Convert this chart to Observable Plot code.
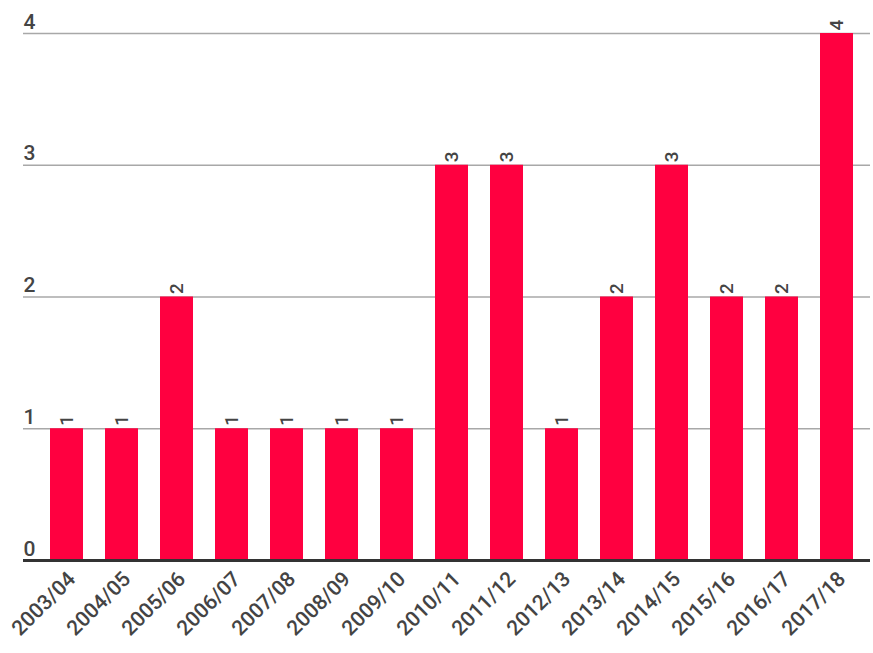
<!DOCTYPE html>
<html><head><meta charset="utf-8">
<script src="https://cdn.jsdelivr.net/npm/d3@7"></script>
<script src="https://cdn.jsdelivr.net/npm/@observablehq/plot@0.6"></script>
<style>body{margin:0;background:#fff;font-family:Roboto,sans-serif}</style>
</head><body><div id="chart"></div>
<script>
const seasons = ["2003/04","2004/05","2005/06","2006/07","2007/08","2008/09","2009/10","2010/11","2011/12","2012/13","2013/14","2014/15","2015/16","2016/17","2017/18"];
const counts = [1,1,2,1,1,1,1,3,3,1,2,3,2,2,4];
const yTicks = [0,1,2,3,4];
const data = seasons.map((s,i)=>({season:s, count:counts[i]}));

const chart = Plot.plot({
  width: 873, height: 653,
  marginLeft: 23, marginRight: 3, marginTop: 0, marginBottom: 0,
  style: {fontFamily: "Roboto, sans-serif", background: "#fff"},
  x: {type: "band", domain: seasons, range: [33, 870], paddingInner: 0.4, paddingOuter: 0.3, axis: null},
  y: {domain: [0,4], range: [560, 33], axis: null},
  marks: [
    Plot.ruleY(yTicks.filter(d=>d>0), {stroke: "#a8a8a8", strokeWidth: 1.5}),
    Plot.barY(data, {x: "season", y: "count", fill: "#ff0040"}),
    Plot.ruleY([0], {stroke: "#333", strokeWidth: 3}),
    Plot.text(yTicks, {y: d=>d, text: d=>String(d), frameAnchor: "left", dy: -5, lineAnchor: "bottom", textAnchor: "start", fontSize: 21, fontWeight: 500, fill: "#444"}),
    Plot.text(data, {x: "season", y: "count", text: d=>String(d.count), rotate: -90, textAnchor: "start", dy: -3, fontSize: 19, fontWeight: 500, fill: "#444"}),
    Plot.text(data, {x: "season", y: () => 0, text: "season", rotate: -45, textAnchor: "end", lineAnchor: "middle", dx: 5, dy: 15, fontSize: 21, fontWeight: 500, fill: "#444"})
  ]
});
document.getElementById("chart").appendChild(chart);
</script></body></html>
